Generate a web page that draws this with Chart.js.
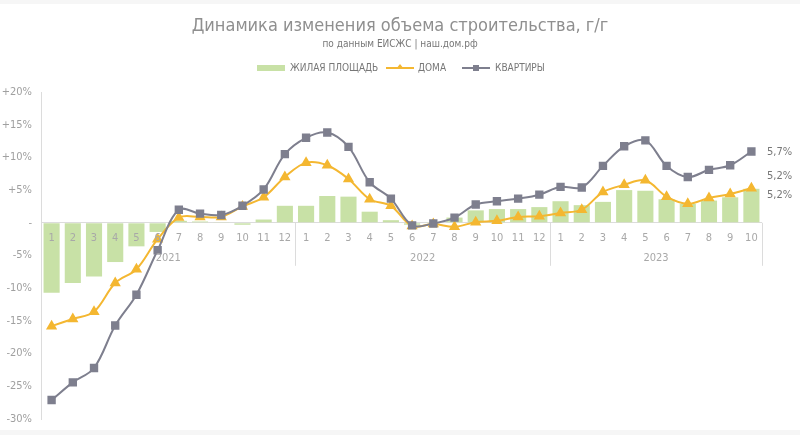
<!DOCTYPE html>
<html>
<head>
<meta charset="utf-8">
<script src="https://cdn.jsdelivr.net/npm/chart.js@4"></script>
<style>
  html, body { margin: 0; padding: 0; background: #fff; }
  #wrap { position: relative; width: 800px; height: 435px; background: #fff; }
  #wrap:before { content: ''; position: absolute; left: 0; top: 0; width: 800px; height: 4px; background: #f6f6f6; }
  #wrap:after { content: ''; position: absolute; left: 0; bottom: 0; width: 800px; height: 5px; background: #f6f6f6; }
</style>
</head>
<body>
<div id="wrap"><canvas id="grafico" width="800" height="435"></canvas></div>
<script>
// данные
const months = ['1','2','3','4','5','6','7','8','9','10','11','12',
                '1','2','3','4','5','6','7','8','9','10','11','12',
                '1','2','3','4','5','6','7','8','9','10'];
const years = ['2021', '2022', '2023'];
const yearStart = [0, 12, 24];
const yearEnd = [11, 23, 33];

const zhilaya = [-10.7, -9.2, -8.2, -6.0, -3.6, -1.4, 0.3, 0.2, 0.1, -0.3, 0.5, 2.6,
                 2.6, 4.1, 4.0, 1.7, 0.4, -0.3, 0.1, 0.8, 1.9, 2.1, 2.1, 2.4,
                 3.3, 2.7, 3.2, 5.0, 4.9, 3.6, 2.9, 3.4, 3.9, 5.2];
const doma = [-15.8, -14.7, -13.6, -9.2, -7.1, -2.5, 0.8, 0.9, 0.9, 2.5, 3.9, 7.0,
              9.2, 8.8, 6.7, 3.6, 2.6, -0.5, -0.2, -0.6, 0.1, 0.3, 0.9, 1.0,
              1.5, 2.0, 4.7, 5.8, 6.5, 4.0, 2.9, 3.8, 4.4, 5.3];
const kvartiry = [-27.1, -24.4, -22.2, -15.7, -11.0, -4.2, 2.0, 1.4, 1.2, 2.6, 5.1, 10.5,
                  13.0, 13.8, 11.6, 6.2, 3.7, -0.4, -0.1, 0.8, 2.8, 3.3, 3.7, 4.3,
                  5.5, 5.4, 8.7, 11.7, 12.6, 8.7, 7.0, 8.1, 8.8, 10.9];
const endLabels = ['5,7%', '5,2%', '5,2%'];

const FONT = "'Liberation Sans Narrow', 'DejaVu Sans Condensed', 'Roboto', sans-serif";
const GREEN = '#c8e1a6';
const ORANGE = '#f4b731';
const GREY = '#7e7f8e';
const LINE = '#dcdcdc';

const extras = {
    id: 'extras',
    afterDraw(chart) {
        const ctx = chart.ctx;
        const x = chart.scales.x;
        const y = chart.scales.y;
        const area = chart.chartArea;
        const y0 = y.getPixelForValue(0);
        ctx.save();

        // заголовок
        ctx.fillStyle = '#8f8f8f';
        ctx.textAlign = 'center';
        ctx.textBaseline = 'middle';
        ctx.font = '18px ' + FONT;
        ctx.fillText('Динамика изменения объема строительства, г/г', 400, 26);
        ctx.font = '10px ' + FONT;
        ctx.fillStyle = '#777';
        ctx.fillText('по данным ЕИСЖС | наш.дом.рф', 400, 44);

        // легенда
        ctx.font = '10px ' + FONT;
        ctx.textAlign = 'left';
        ctx.fillStyle = GREEN;
        ctx.fillRect(257, 65, 28, 6);
        ctx.fillStyle = '#777';
        ctx.fillText('ЖИЛАЯ ПЛОЩАДЬ', 290, 68);
        ctx.strokeStyle = ORANGE; ctx.lineWidth = 2;
        ctx.beginPath(); ctx.moveTo(386, 68); ctx.lineTo(414, 68); ctx.stroke();
        ctx.fillStyle = ORANGE;
        ctx.beginPath(); ctx.moveTo(400, 64); ctx.lineTo(404, 69); ctx.lineTo(396, 69); ctx.closePath(); ctx.fill();
        ctx.fillStyle = '#777';
        ctx.fillText('ДОМА', 418, 68);
        ctx.strokeStyle = GREY;
        ctx.beginPath(); ctx.moveTo(462, 68); ctx.lineTo(490, 68); ctx.stroke();
        ctx.fillStyle = GREY;
        ctx.fillRect(473, 65, 6, 6);
        ctx.fillStyle = '#777';
        ctx.fillText('КВАРТИРЫ', 495, 68);

        // подписи месяцев
        ctx.font = '11px ' + FONT;
        ctx.fillStyle = '#a8a8a8';
        ctx.textAlign = 'center';
        months.forEach((m, i) => ctx.fillText(m, x.getPixelForValue(i), y0 + 15));

        // годы и разделители
        ctx.strokeStyle = LINE; ctx.lineWidth = 1;
        years.forEach((yr, k) => {
            const a = x.getPixelForValue(yearStart[k]);
            const b = x.getPixelForValue(yearEnd[k]);
            ctx.fillText(yr, (a + b) / 2, y0 + 35);
            const sep = k < years.length - 1 ? (b + x.getPixelForValue(yearEnd[k] + 1)) / 2 : area.right;
            ctx.beginPath();
            ctx.moveTo(Math.round(sep) + 0.5, y0);
            ctx.lineTo(Math.round(sep) + 0.5, y0 + 43);
            ctx.stroke();
        });

        // подписи последних значений
        const last = months.length - 1;
        ctx.textAlign = 'left';
        ctx.font = '11px ' + FONT;
        ctx.fillStyle = '#777';
        const lx = area.right + 5;
        ctx.fillText(endLabels[0], lx, y.getPixelForValue(kvartiry[last]) + 1);
        ctx.fillText(endLabels[1], lx, y.getPixelForValue(doma[last]) - 12);
        ctx.fillText(endLabels[2], lx, y.getPixelForValue(zhilaya[last]) + 6);
        ctx.restore();
    }
};

new Chart(document.getElementById('grafico').getContext('2d'), {
    data: {
        labels: months,
        datasets: [
            {
                type: 'line', label: 'КВАРТИРЫ', data: kvartiry, order: 1,
                borderColor: GREY, backgroundColor: GREY, borderWidth: 2,
                pointStyle: 'rect', pointRadius: 4.5, tension: 0.35
            },
            {
                type: 'line', label: 'ДОМА', data: doma, order: 2,
                borderColor: ORANGE, backgroundColor: ORANGE, borderWidth: 2,
                pointStyle: 'triangle', pointRadius: 4.5, tension: 0.35
            },
            {
                type: 'bar', label: 'ЖИЛАЯ ПЛОЩАДЬ', data: zhilaya, order: 3,
                backgroundColor: GREEN, barPercentage: 0.76, categoryPercentage: 1
            }
        ]
    },
    options: {
        responsive: false,
        animation: false,
        layout: { padding: { left: 0, right: 38, top: 92, bottom: 16 } },
        plugins: { legend: { display: false }, title: { display: false }, tooltip: { enabled: false } },
        scales: {
            x: { display: false, offset: true },
            y: {
                min: -30, max: 20,
                afterFit(s) { s.width = 41; },
                border: { display: true, color: LINE },
                grid: {
                    drawTicks: false,
                    color: c => c.tick.value === 0 ? LINE : 'rgba(0,0,0,0)'
                },
                ticks: {
                    stepSize: 5, padding: 9, color: '#a0a0a0',
                    font: { family: FONT, size: 11 },
                    callback: v => v > 0 ? '+' + v + '%' : (v === 0 ? '-' : v + '%')
                }
            }
        }
    },
    plugins: [extras]
});
</script>
</body>
</html>
